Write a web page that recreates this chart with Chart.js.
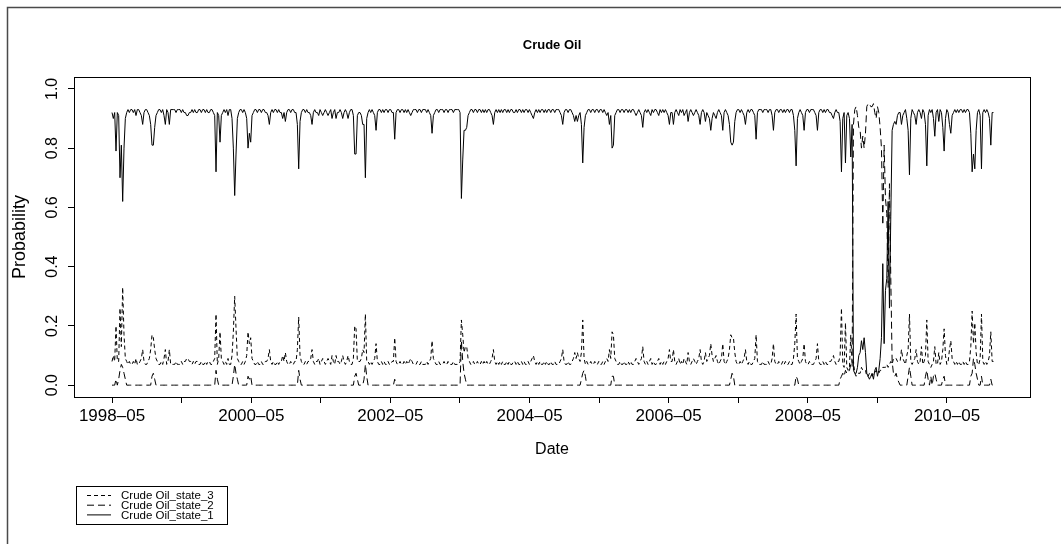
<!DOCTYPE html>
<html>
<head>
<meta charset="utf-8">
<title>Crude Oil</title>
<script src="https://cdn.jsdelivr.net/npm/chart.js@4.4.1/dist/chart.umd.min.js"></script>
<style>
  html, body { margin: 0; padding: 0; background: #fff; }
  canvas { display: block; }
</style>
</head>
<body>
<canvas id="oilChart" width="1061" height="544"></canvas>
<script>
// weekly observations, first one on 1998-05-01
const firstWeek = Date.UTC(1998, 4, 1);
const DAY = 86400000;

const seriesNames = ['Crude Oil_state_1', 'Crude Oil_state_2', 'Crude Oil_state_3'];
const tickYears = [1998, 1999, 2000, 2001, 2002, 2003, 2004, 2005, 2006, 2007, 2008, 2009, 2010];
const labelYears = [1998, 2000, 2002, 2004, 2006, 2008, 2010];
const yTicks = [0, 0.2, 0.4, 0.6, 0.8, 1.0];

const state1 = [
  .92,.90,.92,.79,.92,.91,.70,.81,.62,.80,.90,.92,.93,.92,.93,.93,.92,.93,.91,.93,
  .93,.92,.91,.88,.92,.93,.93,.92,.91,.88,.81,.81,.87,.91,.92,.93,.93,.92,.93,.91,
  .88,.93,.92,.88,.93,.93,.93,.93,.92,.93,.93,.93,.92,.93,.92,.92,.91,.91,.92,.92,
  .93,.92,.93,.92,.92,.93,.93,.92,.93,.93,.92,.93,.92,.92,.93,.93,.92,.91,.72,.92,
  .91,.82,.91,.92,.93,.92,.93,.91,.93,.93,.90,.80,.64,.78,.90,.92,.93,.93,.92,.93,
  .92,.90,.80,.85,.82,.91,.92,.93,.93,.92,.93,.93,.92,.93,.93,.92,.92,.91,.88,.92,
  .93,.92,.93,.93,.92,.93,.92,.92,.90,.92,.89,.92,.93,.93,.92,.93,.93,.92,.92,.88,
  .73,.89,.92,.93,.93,.92,.93,.92,.92,.91,.88,.92,.93,.92,.92,.91,.93,.92,.91,.92,
  .93,.92,.91,.92,.93,.90,.92,.93,.90,.92,.92,.93,.92,.90,.92,.93,.92,.90,.92,.93,
  .93,.91,.78,.78,.91,.92,.92,.91,.88,.88,.70,.90,.92,.93,.92,.93,.92,.91,.86,.92,
  .93,.93,.92,.93,.92,.93,.93,.92,.93,.93,.92,.92,.83,.92,.93,.93,.92,.93,.93,.92,
  .93,.92,.93,.92,.91,.92,.93,.93,.93,.92,.93,.93,.92,.93,.93,.93,.92,.93,.92,.91,
  .85,.91,.92,.93,.93,.92,.93,.93,.93,.92,.93,.93,.92,.93,.93,.93,.92,.93,.93,.93,
  .93,.92,.63,.76,.86,.86,.87,.91,.92,.93,.93,.92,.93,.93,.92,.93,.93,.92,.93,.92,
  .93,.92,.93,.93,.92,.91,.88,.92,.93,.92,.93,.92,.93,.92,.93,.93,.92,.93,.92,.93,
  .93,.92,.92,.93,.92,.93,.93,.92,.93,.92,.93,.93,.92,.93,.92,.91,.90,.92,.93,.92,
  .93,.92,.93,.93,.92,.93,.92,.93,.93,.92,.93,.93,.92,.93,.93,.93,.92,.91,.88,.92,
  .93,.93,.92,.93,.93,.92,.91,.89,.91,.89,.91,.92,.88,.75,.87,.91,.92,.93,.93,.92,
  .93,.93,.92,.93,.93,.92,.93,.93,.92,.93,.92,.91,.92,.88,.91,.80,.81,.91,.92,.93,
  .93,.92,.93,.93,.92,.93,.93,.92,.93,.92,.93,.93,.92,.91,.92,.93,.92,.91,.87,.92,
  .93,.92,.93,.92,.91,.93,.92,.93,.93,.92,.91,.93,.92,.93,.92,.93,.92,.91,.88,.92,
  .92,.88,.92,.93,.92,.91,.93,.92,.93,.91,.92,.93,.89,.92,.93,.92,.91,.92,.93,.92,
  .91,.88,.92,.93,.92,.89,.92,.91,.90,.86,.90,.92,.91,.90,.92,.93,.92,.91,.86,.92,
  .93,.92,.91,.88,.82,.81,.82,.89,.92,.93,.93,.92,.93,.92,.91,.88,.92,.93,.92,.93,
  .93,.92,.91,.83,.92,.93,.93,.93,.92,.93,.93,.93,.92,.93,.93,.91,.86,.92,.93,.93,
  .92,.93,.93,.92,.93,.92,.93,.93,.92,.93,.93,.91,.86,.74,.90,.92,.93,.92,.91,.86,
  .92,.93,.93,.92,.93,.93,.93,.92,.91,.86,.92,.93,.93,.92,.93,.92,.93,.93,.92,.92,
  .91,.90,.92,.93,.92,.92,.89,.72,.90,.92,.75,.91,.92,.90,.77,.88,.05,.04,.04,.06,
  .10,.11,.15,.12,.16,.11,.04,.03,.02,.03,.04,.02,.05,.06,.03,.05,.09,.16,.41,.14,
  .32,.36,.62,.26,.57,.86,.88,.89,.88,.91,.92,.92,.88,.91,.92,.93,.90,.86,.71,.90,
  .93,.92,.91,.88,.92,.93,.92,.90,.93,.92,.88,.74,.91,.93,.92,.93,.90,.84,.92,.93,
  .89,.93,.92,.87,.79,.90,.93,.92,.88,.85,.91,.92,.93,.92,.93,.92,.93,.93,.92,.93,
  .92,.93,.93,.92,.85,.72,.78,.73,.86,.92,.93,.91,.73,.92,.93,.92,.93,.92,.90,.81,
  .92,.92
];

const state2 = [
  0,0,0,.02,0,.02,.05,.07,.06,.04,.02,0,0,0,0,0,0,0,0,0,
  0,0,0,0,0,0,0,0,0,0,.03,.04,.02,0,0,0,0,0,0,0,
  0,0,0,0,0,0,0,0,0,0,0,0,0,0,0,0,0,0,0,0,
  0,0,0,0,0,0,0,0,0,0,0,0,0,0,0,0,0,0,.05,.02,
  0,0,0,0,0,0,0,0,0,0,0,.03,.07,.04,.02,0,0,0,0,0,
  0,0,.03,.02,.03,0,0,0,0,0,0,0,0,0,0,0,0,0,0,0,
  0,0,0,0,0,0,0,0,0,0,0,0,0,0,0,0,0,0,0,0,
  .05,.02,0,0,0,0,0,0,0,0,0,0,0,0,0,0,0,0,0,0,
  0,0,0,0,0,0,0,0,0,0,0,0,0,0,0,0,0,0,0,0,
  0,0,.03,.04,.02,0,0,0,0,.02,.07,.03,0,0,0,0,0,0,0,0,
  0,0,0,0,0,0,0,0,0,0,0,0,.02,0,0,0,0,0,0,0,
  0,0,0,0,0,0,0,0,0,0,0,0,0,0,0,0,0,0,0,0,
  0,0,0,0,0,0,0,0,0,0,0,0,0,0,0,0,0,0,0,0,
  0,0,.15,.08,.04,.02,0,0,0,0,0,0,0,0,0,0,0,0,0,0,
  0,0,0,0,0,0,0,0,0,0,0,0,0,0,0,0,0,0,0,0,
  0,0,0,0,0,0,0,0,0,0,0,0,0,0,0,0,0,0,0,0,
  0,0,0,0,0,0,0,0,0,0,0,0,0,0,0,0,0,0,0,0,
  0,0,0,0,0,0,0,0,0,0,0,0,.02,.04,.05,.03,0,0,0,0,
  0,0,0,0,0,0,0,0,0,0,0,0,0,0,0,.03,.03,0,0,0,
  0,0,0,0,0,0,0,0,0,0,0,0,0,0,0,0,0,0,0,0,
  0,0,0,0,0,0,0,0,0,0,0,0,0,0,0,0,0,0,0,0,
  0,0,0,0,0,0,0,0,0,0,0,0,0,0,0,0,0,0,0,0,
  0,0,0,0,0,0,0,0,0,0,0,0,0,0,0,0,0,0,0,0,
  0,0,0,0,.02,.04,.03,0,0,0,0,0,0,0,0,0,0,0,0,0,
  0,0,0,0,0,0,0,0,0,0,0,0,0,0,0,0,0,0,0,0,
  0,0,0,0,0,0,0,0,0,0,0,0,0,.03,.02,0,0,0,0,0,
  0,0,0,0,0,0,0,0,0,0,0,0,0,0,0,0,0,0,0,0,
  0,0,0,0,0,0,.02,.03,.04,.03,.05,.04,.04,.05,.07,.06,.88,.93,.94,.91,
  .87,.86,.80,.84,.80,.85,.94,.95,.95,.94,.94,.95,.92,.90,.94,.92,.87,.80,.54,.81,
  .63,.58,.33,.68,.36,.08,.04,.03,.04,.02,.01,0,0,0,0,0,0,.03,.06,.03,
  0,0,0,0,0,0,0,0,0,0,.03,.05,.02,0,.03,0,.03,.04,.02,0,
  0,0,0,.02,.03,0,0,0,0,0,0,0,0,0,0,0,0,0,0,0,
  0,0,0,0,.03,.04,.09,.07,.04,.02,0,0,.03,0,0,0,0,0,0,.02,
  0,0
];

const state3 = [
  .08,.10,.08,.20,.08,.08,.26,.13,.33,.17,.09,.08,.07,.08,.07,.07,.08,.07,.09,.07,
  .07,.08,.09,.12,.08,.07,.07,.08,.09,.12,.17,.16,.12,.09,.08,.07,.07,.08,.07,.09,
  .12,.07,.08,.12,.07,.07,.07,.07,.08,.07,.07,.07,.08,.07,.08,.08,.09,.09,.08,.08,
  .07,.08,.07,.08,.08,.07,.07,.08,.07,.07,.08,.07,.08,.08,.07,.07,.08,.09,.24,.07,
  .09,.18,.09,.08,.07,.08,.07,.09,.07,.07,.10,.18,.30,.19,.09,.08,.07,.07,.08,.07,
  .08,.10,.18,.14,.16,.09,.08,.07,.07,.08,.07,.07,.08,.07,.07,.08,.08,.09,.12,.08,
  .07,.08,.07,.07,.08,.07,.08,.08,.10,.08,.11,.08,.07,.07,.08,.07,.07,.08,.08,.12,
  .23,.10,.08,.07,.07,.08,.07,.08,.08,.09,.12,.08,.07,.08,.08,.09,.07,.08,.09,.08,
  .07,.08,.09,.08,.07,.10,.08,.07,.10,.08,.08,.07,.08,.10,.08,.07,.08,.10,.08,.07,
  .07,.09,.20,.19,.08,.08,.08,.09,.12,.11,.24,.08,.08,.07,.08,.07,.08,.09,.14,.08,
  .07,.07,.08,.07,.08,.07,.07,.08,.07,.07,.08,.08,.16,.08,.07,.07,.08,.07,.07,.08,
  .07,.08,.07,.08,.09,.08,.07,.07,.07,.08,.07,.07,.08,.07,.07,.07,.08,.07,.08,.09,
  .15,.09,.08,.07,.07,.08,.07,.07,.07,.08,.07,.07,.08,.07,.07,.07,.08,.07,.07,.07,
  .07,.08,.22,.17,.11,.13,.13,.09,.08,.07,.07,.08,.07,.07,.08,.07,.07,.08,.07,.08,
  .07,.08,.07,.07,.08,.09,.12,.08,.07,.08,.07,.08,.07,.08,.07,.07,.08,.07,.08,.07,
  .07,.08,.08,.07,.08,.07,.07,.08,.07,.08,.07,.07,.08,.07,.08,.09,.10,.08,.07,.08,
  .07,.08,.07,.07,.08,.07,.08,.07,.07,.08,.07,.07,.08,.07,.07,.07,.08,.09,.12,.08,
  .07,.07,.08,.07,.07,.08,.09,.11,.09,.11,.09,.08,.11,.22,.09,.07,.08,.07,.07,.08,
  .07,.07,.08,.07,.07,.08,.07,.07,.08,.07,.08,.09,.08,.12,.09,.18,.17,.09,.08,.07,
  .07,.08,.07,.07,.08,.07,.07,.08,.07,.08,.07,.07,.08,.09,.08,.07,.08,.09,.13,.08,
  .07,.08,.07,.08,.09,.07,.08,.07,.07,.08,.09,.07,.08,.07,.08,.07,.08,.09,.12,.08,
  .08,.12,.08,.07,.08,.09,.07,.08,.07,.09,.08,.07,.11,.08,.07,.08,.09,.08,.07,.08,
  .09,.12,.08,.07,.08,.11,.08,.09,.10,.14,.10,.08,.09,.10,.08,.07,.08,.09,.14,.08,
  .07,.08,.09,.12,.17,.16,.16,.11,.08,.07,.07,.08,.07,.08,.09,.12,.08,.07,.08,.07,
  .07,.08,.09,.17,.08,.07,.07,.07,.08,.07,.07,.07,.08,.07,.07,.09,.14,.08,.07,.07,
  .08,.07,.07,.08,.07,.08,.07,.07,.08,.07,.07,.09,.14,.24,.09,.08,.07,.08,.09,.14,
  .08,.07,.07,.08,.07,.07,.07,.08,.09,.14,.08,.07,.07,.08,.07,.08,.07,.07,.08,.08,
  .09,.10,.08,.07,.08,.08,.10,.26,.07,.06,.21,.06,.05,.06,.17,.07,.08,.04,.03,.04,
  .04,.04,.06,.05,.05,.05,.03,.03,.04,.04,.03,.04,.04,.05,.04,.04,.05,.05,.06,.06,
  .06,.07,.06,.07,.08,.07,.09,.09,.09,.08,.08,.08,.12,.09,.08,.07,.10,.12,.24,.08,
  .07,.08,.09,.12,.08,.07,.08,.13,.07,.08,.10,.22,.08,.07,.06,.07,.08,.13,.07,.07,
  .11,.07,.08,.12,.19,.10,.07,.08,.12,.15,.09,.08,.07,.08,.07,.08,.07,.07,.08,.07,
  .08,.07,.07,.08,.13,.25,.14,.21,.11,.07,.07,.09,.24,.08,.07,.08,.07,.08,.10,.18,
  .08,.08
];

const dashes = [[], [7, 4], [4, 3]];
const fontFamily = '"Liberation Sans", Arial, Helvetica, sans-serif';

function daysFrom(year) {
    return (Date.UTC(year, 4, 1) - firstWeek) / DAY;
}

function toPoints(values) {
    return values.map((v, i) => ({ x: i * 7, y: v }));
}

const tickDays = tickYears.map(daysFrom);

// draws the R-style frame, plot box, title and legend
const rFrame = {
    id: 'rFrame',
    afterDraw(chart) {
        const ctx = chart.ctx;
        const a = chart.chartArea;
        ctx.save();

        // outer figure frame
        ctx.strokeStyle = '#4a4a4a';
        ctx.lineWidth = 1.5;
        ctx.beginPath();
        ctx.moveTo(7.5, 544);
        ctx.lineTo(7.5, 7.5);
        ctx.lineTo(1061, 7.5);
        ctx.stroke();

        // plot box
        ctx.strokeStyle = '#000';
        ctx.lineWidth = 1;
        ctx.strokeRect(Math.round(a.left) + 0.5, Math.round(a.top) + 0.5,
            Math.round(a.right - a.left), Math.round(a.bottom - a.top));

        // title
        ctx.fillStyle = '#000';
        ctx.font = 'bold 13px ' + fontFamily;
        ctx.textAlign = 'center';
        ctx.textBaseline = 'middle';
        ctx.fillText('Crude Oil', (a.left + a.right) / 2, 45);

        // legend
        ctx.strokeRect(76.5, 486.5, 151, 38);
        ctx.font = '11.5px ' + fontFamily;
        ctx.textAlign = 'left';
        const order = [2, 1, 0];
        order.forEach((di, row) => {
            const y = 495.5 + row * 9.7;
            ctx.setLineDash(dashes[di]);
            ctx.beginPath();
            ctx.moveTo(87, y);
            ctx.lineTo(111, y);
            ctx.stroke();
            ctx.setLineDash([]);
            ctx.fillText(seriesNames[di], 121, y + 0.5);
        });
        ctx.restore();
    }
};

const ctx = document.getElementById('oilChart').getContext('2d');
const oilChart = new Chart(ctx, {
    type: 'line',
    data: {
        datasets: [state1, state2, state3].map((values, i) => ({
            label: seriesNames[i],
            data: toPoints(values),
            borderColor: '#000',
            borderWidth: 1,
            borderDash: dashes[i],
            pointRadius: 0,
            tension: 0,
            fill: false
        }))
    },
    options: {
        responsive: false,
        animation: false,
        layout: { padding: { top: 77, right: 31, bottom: 0, left: 0 } },
        plugins: {
            legend: { display: false },
            tooltip: { enabled: false }
        },
        scales: {
            x: {
                type: 'linear',
                min: -199.5,
                max: 4818.7,
                afterFit(scale) { scale.height = 147; },
                afterBuildTicks(scale) { scale.ticks = tickDays.map(v => ({ value: v })); },
                border: { display: true, color: '#000', width: 1 },
                grid: { drawOnChartArea: false, drawTicks: true, tickLength: 6, color: '#000' },
                ticks: {
                    autoSkip: false,
                    maxRotation: 0,
                    minRotation: 0,
                    padding: 3,
                    color: '#000',
                    font: { family: fontFamily, size: 17 },
                    callback(value) {
                        const yr = tickYears[tickDays.indexOf(value)];
                        return labelYears.includes(yr) ? yr + '\u201305' : '';
                    }
                },
                title: {
                    display: true,
                    text: 'Date',
                    color: '#000',
                    font: { family: fontFamily, size: 16 },
                    padding: { top: 0, bottom: 85 }
                }
            },
            y: {
                min: -0.04,
                max: 1.04,
                afterFit(scale) { scale.width = 74; },
                afterBuildTicks(scale) { scale.ticks = yTicks.map(v => ({ value: v })); },
                border: { display: true, color: '#000', width: 1 },
                grid: { drawOnChartArea: false, drawTicks: true, tickLength: 6, color: '#000' },
                ticks: {
                    minRotation: 90,
                    maxRotation: 90,
                    crossAlign: 'center',
                    padding: 4,
                    color: '#000',
                    font: { family: fontFamily, size: 16 },
                    callback(value) { return value.toFixed(1); }
                },
                title: {
                    display: true,
                    text: 'Probability',
                    color: '#000',
                    font: { family: fontFamily, size: 18 },
                    padding: { top: 9, bottom: 0 }
                }
            }
        }
    },
    plugins: [rFrame]
});
</script>
</body>
</html>
